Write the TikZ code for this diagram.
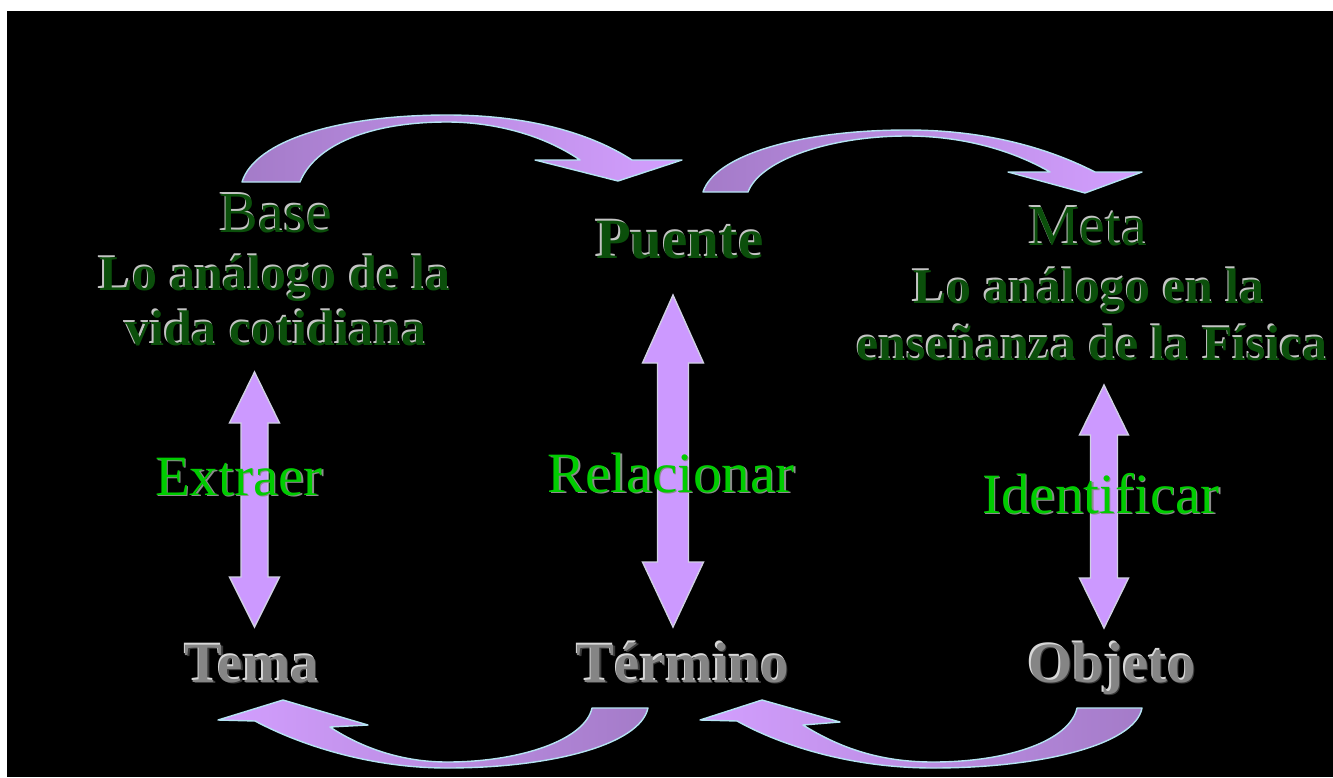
\documentclass[tikz,border=0pt]{standalone}
\usepackage{fontspec}
\setmainfont{Liberation Serif}
\definecolor{darkgr}{HTML}{0B4F0B}
\definecolor{hilite}{HTML}{C4C4C4}
\definecolor{brightgr}{HTML}{00CC00}
\definecolor{shadowgr}{HTML}{8C8C8C}
\definecolor{greyfill}{HTML}{858585}
\definecolor{greyhl}{HTML}{D8D8D8}
\definecolor{greydk}{HTML}{3A3A3A}
\definecolor{lavdark}{HTML}{A47BC8}
\definecolor{lavlight}{HTML}{D39FFF}
\definecolor{lavfill}{HTML}{CC99FF}
\definecolor{edgecyan}{HTML}{B5E3F2}
\definecolor{edgegrey}{HTML}{D0D0E4}
\newcommand{\embA}[1]{\leavevmode\rlap{\kern-1.3pt\raisebox{1.3pt}{\color{hilite}#1}}{\color{darkgr}#1}}
\newcommand{\embB}[1]{\leavevmode\rlap{\kern1.5pt\raisebox{-1.5pt}{\color{shadowgr}#1}}{\color{brightgr}#1}}
\newcommand{\embC}[1]{\leavevmode\rlap{\kern1.3pt\raisebox{-1.3pt}{\color{greydk}#1}}\rlap{\kern-1.3pt\raisebox{1.3pt}{\color{greyhl}#1}}{\color{greyfill}#1}}
\tikzset{
  ttl/.style={font=\fontsize{58}{60}\selectfont, inner sep=0pt, anchor=base},
  ttlbold/.style={font=\bfseries\fontsize{57}{60}\selectfont, inner sep=0pt, anchor=base},
  dsc/.style={font=\bfseries\fontsize{50}{55}\selectfont, inner sep=0pt, anchor=base},
  verb/.style={font=\fontsize{57}{60}\selectfont, inner sep=0pt, anchor=base},
  curvedarrow/.style={draw=edgecyan, line width=1.4pt, line join=round},
  dblarrow/.style={fill=lavfill, draw=edgegrey, line width=1.4pt, line join=miter}
}
\begin{document}
\begin{tikzpicture}[x=1pt,y=-1pt]
\useasboundingbox (0,0) rectangle (1333,777);
\fill[white] (0,0) rectangle (1333,777);
\fill[black] (7,11) rectangle (1333,777);

% curved arrows (top)
\path[curvedarrow, left color=lavdark, right color=lavlight]
  (242,182) .. controls (255,140) and (340,115) .. (447,115)
  .. controls (530,115) and (592,134) .. (632,160)
  -- (682,160) -- (618,181) -- (535,160) -- (580,160)
  .. controls (542,134) and (492,122) .. (447,122)
  .. controls (370,122) and (315,145) .. (300,182) -- cycle;
\path[curvedarrow, left color=lavdark, right color=lavlight]
  (703,192) .. controls (715,155) and (800,130) .. (907,130)
  .. controls (990,130) and (1052,150) .. (1095,172)
  -- (1142,172) -- (1085,193) -- (1008,172) -- (1050,172)
  .. controls (1010,149) and (960,136) .. (907,136)
  .. controls (830,136) and (760,160) .. (748,192) -- cycle;

% curved arrows (bottom)
\path[curvedarrow, left color=lavlight, right color=lavdark]
  (648,708) .. controls (640,745) and (550,768) .. (447,768)
  .. controls (370,768) and (300,745) .. (255,721)
  -- (218,720) -- (283,700) -- (368,725) -- (330,727)
  .. controls (362,748) and (402,762) .. (447,762)
  .. controls (520,762) and (585,740) .. (592,708) -- cycle;
\path[curvedarrow, left color=lavlight, right color=lavdark]
  (1142,708) .. controls (1135,745) and (1040,768) .. (933,768)
  .. controls (850,768) and (780,745) .. (737,721)
  -- (700,720) -- (762,700) -- (840,722) -- (803,725)
  .. controls (840,748) and (880,762) .. (933,762)
  .. controls (1010,762) and (1070,740) .. (1077,708) -- cycle;

% vertical double arrows
\path[dblarrow] (254.5,372) -- (279.5,423) -- (268,423) -- (268,577) -- (279.5,577)
  -- (254.5,627) -- (229.5,577) -- (241,577) -- (241,423) -- (229.5,423) -- cycle;
\path[dblarrow] (673,295) -- (703.5,363) -- (688.5,363) -- (688.5,562) -- (703.5,562)
  -- (673,627) -- (642.5,562) -- (657.5,562) -- (657.5,363) -- (642.5,363) -- cycle;
\path[dblarrow] (1104,385) -- (1128.5,435) -- (1117.5,435) -- (1117.5,578) -- (1128.5,578)
  -- (1104,628) -- (1079.5,578) -- (1090.5,578) -- (1090.5,435) -- (1079.5,435) -- cycle;

% texts
\node[ttl] (base) at (276,232) {\embA{Base}};
\node[dsc] (baseA) at (275,290) {\embA{Lo análogo de la}};
\node[dsc] (baseB) at (276,345) {\embA{vida cotidiana}};
\node[ttlbold] (puente) at (680,258) {\embA{Puente}};
\node[ttl] (meta) at (1088,245) {\embA{Meta}};
\node[dsc] (metaA) at (1089,303) {\embA{Lo análogo en la}};
\node[dsc] (metaB) at (1092,360) {\embA{enseñanza de la Física}};

\node[verb] (extraer) at (239,495) {\embB{Extraer}};
\node[verb] (relacionar) at (671,492) {\embB{Relacionar}};
\node[verb] (identificar) at (1101,513) {\embB{Identificar}};

\node[ttlbold] (tema) at (252,682) {\embC{Tema}};
\node[ttlbold] (termino) at (683,682) {\embC{Término}};
\node[ttlbold] (objeto) at (1112,682) {\embC{Objeto}};
\end{tikzpicture}
\end{document}
